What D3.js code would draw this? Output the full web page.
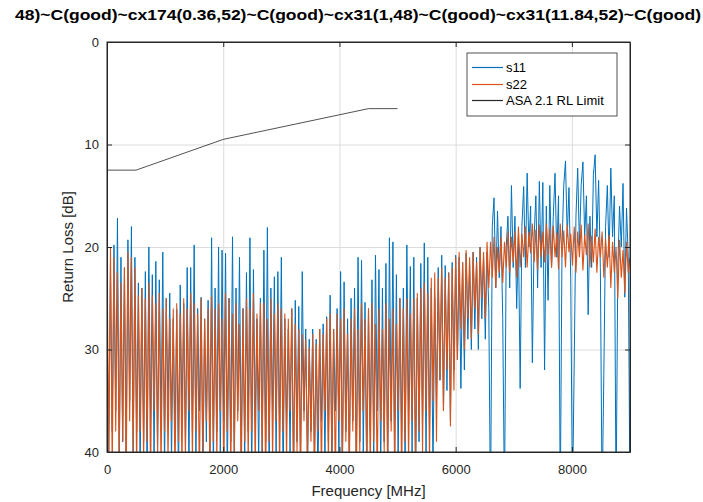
<!DOCTYPE html>
<html lang="en">
<head>
  <meta charset="UTF-8">
  <title>Return Loss</title>
  <script src="https://d3js.org/d3.v7.min.js"></script>
  <style>
    body { margin: 0; background: #fff; }
    svg { font-family: "Liberation Sans", Arial, sans-serif; }
    .tick text { fill: #262626; font-size: 13px; }
    .grid line { stroke: #dcdcdc; stroke-width: 1; }
    .grid path { display: none; }
    .axis path, .axis line { stroke: #262626; }
  </style>
</head>
<body>
<div id="chart"></div>
<script>
  // frequency step between samples (MHz), samples run 0..9000
  var freqStep = 30;

  var s11 = [
    26, 41, 22, 38, 19.8, 36, 17.2, 42, 21, 39,
    22, 40, 19.3, 35, 18, 41, 21, 38, 23.5, 42,
    24, 39, 22.4, 43, 20, 37, 22.7, 41, 21.4, 40,
    23.2, 38, 20.5, 42, 25, 36, 24.5, 41, 27, 39,
    26.1, 43, 23.7, 37, 25.5, 40, 22, 42, 22, 38,
    19.8, 41, 26, 36, 24.9, 43, 27, 39, 25.2, 40,
    19.1, 42, 24, 38, 20, 41, 20.3, 37, 20.6, 43,
    25, 39, 19, 42, 24, 36, 21, 40, 26, 41,
    22.5, 38, 19.1, 43, 22.2, 37, 27, 41, 25, 40,
    20.3, 39, 18.1, 42, 24, 36, 22.9, 41, 22.4, 38,
    21, 43, 27, 37, 28, 40, 26, 42, 25.2, 39,
    25.8, 41, 22.4, 36, 28, 42, 29, 38, 28, 40,
    29, 43, 28, 37, 27.5, 41, 26.8, 39, 24.7, 42,
    28, 36, 26, 40, 22.4, 43, 23.4, 38, 27, 41,
    25, 37, 24, 42, 21, 39, 21.3, 40, 25.4, 43,
    26, 38, 23.2, 41, 20.8, 36, 22.2, 42, 24, 39,
    21.6, 43, 19.1, 37, 19.5, 40, 22.7, 41, 25, 38,
    24, 42, 19.8, 36, 21.9, 40, 21, 43, 25, 39,
    21.6, 37, 19.6, 41, 21, 38, 24, 42, 24.9, 35,
    22, 33, 20.8, 36, 21.8, 34, 22.5, 37, 21.5, 32,
    20.8, 31, 21, 33.8, 21.5, 32, 20.6, 29, 21.8, 30,
    20.5, 28, 21, 30, 20, 27, 21, 29, 20.5, 26,
    46, 18, 15.2, 24, 16.5, 23, 18, 27, 45, 20,
    17, 24, 14, 22, 17, 26, 19, 33.8, 18, 14.1,
    22, 12.8, 20, 16, 31.3, 19, 15, 24, 13.6, 22,
    13.7, 32, 16, 25.2, 14, 22, 17, 12.8, 21, 15,
    45, 20, 14, 11.6, 19, 14.2, 23, 45, 31.3, 17,
    12.3, 20, 14, 11.7, 19, 15, 26.6, 17, 22, 13,
    11, 19, 13.5, 22, 45, 32.3, 18, 14, 21, 12.3,
    19, 15, 45, 22, 16, 20, 13.8, 24.9, 16.2, 21,
    45
  ];

  var s22 = [
    20.5, 40, 20, 42, 21, 38, 22.5, 41, 23.5, 39,
    22, 43, 20.5, 37, 21, 40, 22, 42, 24.7, 38,
    24, 41, 25, 39, 23.5, 43, 24.7, 36, 25.5, 40,
    24.5, 42, 26, 38, 25, 41, 27, 37, 26, 43,
    25.5, 39, 26.5, 42, 25, 40, 26, 36, 24.5, 41,
    25.5, 38, 26.5, 43, 25, 40, 27, 37, 26, 42,
    24.8, 39, 26, 41, 25.5, 36, 27, 43, 24.5, 38,
    25, 42, 26.5, 40, 25.5, 37, 27.5, 43, 26, 39,
    25, 41, 26, 38, 24.5, 42, 26.5, 36, 25.5, 40,
    25.5, 43, 27, 39, 25, 41, 26.5, 37, 25.5, 42,
    26, 38, 26.5, 41, 27, 36, 26, 43, 27.5, 40,
    28, 42, 28.5, 37, 29, 41, 29.8, 39, 28.5, 43,
    29.5, 38, 28, 42, 28.5, 36, 27, 41, 26.5, 40,
    28, 43, 26.5, 37, 27, 41, 26, 39, 28.5, 42,
    27, 38, 26, 43, 28, 40, 25.5, 36, 27, 41,
    26, 42, 25.5, 39, 27.5, 43, 26, 37, 28, 40,
    25.5, 41, 27, 38, 26, 42, 27.5, 36, 25, 43,
    26, 39, 25, 41, 26.5, 37, 25, 42, 24.5, 38,
    24, 40, 23.5, 36, 24.5, 41, 23, 35, 22.5, 39,
    23, 33, 22, 36, 23, 32, 22.5, 37.5, 22, 34,
    21, 31, 20.5, 28, 21.5, 30, 20.3, 27, 21, 29,
    20.5, 26, 21.5, 28.5, 20, 25, 20.5, 27, 19.5, 24,
    19.5, 23, 19, 24, 20, 22.5, 19, 23.5, 19.5, 22,
    18.5, 22.5, 19, 21.5, 18.5, 23, 18, 22, 18.7, 21,
    18, 22, 18.5, 20.6, 17.7, 21.5, 18.3, 22.2, 17.8, 21,
    18.5, 21.5, 17.7, 20.8, 18.2, 22, 17.9, 21, 18.6, 22.2,
    17.7, 21, 18.4, 22, 17.8, 20.5, 18.7, 21.8, 18, 22.5,
    18.5, 21, 17.8, 22.3, 18.8, 20.8, 17.7, 22, 18.9, 21.5,
    18.2, 22.5, 19, 21, 18.5, 23, 19.2, 22, 18.8, 24,
    19.5, 22.5, 20, 25, 19.3, 23, 20.3, 24.5, 19.5, 22.5,
    21
  ];

  // ASA 2.1 return loss limit
  var limitFreq = [0, 500, 2000, 4500, 5000];
  var limitRL = [12.5, 12.5, 9.5, 6.5, 6.5];

  var xTicks = [0, 2000, 4000, 6000, 8000];
  var yTicks = [0, 10, 20, 30, 40];
  var seriesNames = ["s11", "s22", "ASA 2.1 RL Limit"];
  var seriesColors = ["#0072BD", "#D95319", "#262626"];

  var titleText = "48)~C(good)~cx174(0.36,52)~C(good)~cx31(1,48)~C(good)~cx31(11.84,52)~C(good)";

  var margin = { top: 42, right: 73, bottom: 50, left: 107 },
    width = 703 - margin.left - margin.right,
    height = 502 - margin.top - margin.bottom;

  var svg = d3.select("#chart").append("svg")
    .attr("width", 703)
    .attr("height", 502);

  var g = svg.append("g")
    .attr("transform", "translate(" + margin.left + "," + margin.top + ")");

  var x = d3.scaleLinear().domain([0, 9000]).range([0, width]);
  var y = d3.scaleLinear().domain([0, 40]).range([0, height]);

  // grid
  g.append("g")
    .attr("class", "grid")
    .attr("transform", "translate(0," + height + ")")
    .call(d3.axisBottom(x).tickValues(xTicks).tickSize(-height).tickFormat(""));
  g.append("g")
    .attr("class", "grid")
    .call(d3.axisLeft(y).tickValues(yTicks).tickSize(-width).tickFormat(""));

  g.append("clipPath").attr("id", "clip")
    .append("rect").attr("width", width).attr("height", height);

  var line = d3.line()
    .x(function (d, i) { return x(i * freqStep); })
    .y(function (d) { return y(d); });

  var plot = g.append("g").attr("clip-path", "url(#clip)");

  plot.append("path")
    .datum(s11)
    .attr("fill", "none")
    .attr("stroke", seriesColors[0])
    .attr("stroke-width", 1)
    .attr("d", line);

  plot.append("path")
    .datum(s22)
    .attr("fill", "none")
    .attr("stroke", seriesColors[1])
    .attr("stroke-width", 1.1)
    .attr("d", line);

  plot.append("path")
    .datum(limitRL)
    .attr("fill", "none")
    .attr("stroke", seriesColors[2])
    .attr("stroke-width", 0.8)
    .attr("d", d3.line()
      .x(function (d, i) { return x(limitFreq[i]); })
      .y(function (d) { return y(d); }));

  // axes, ticks pointing inward
  g.append("g")
    .attr("class", "axis")
    .attr("transform", "translate(0," + height + ")")
    .call(d3.axisBottom(x).tickValues(xTicks).tickFormat(d3.format("d"))
      .tickSize(-5).tickSizeOuter(0).tickPadding(13));
  g.append("g")
    .attr("class", "axis")
    .call(d3.axisLeft(y).tickValues(yTicks).tickSize(-5).tickSizeOuter(0).tickPadding(8));
  g.append("g")
    .attr("class", "axis")
    .call(d3.axisTop(x).tickValues(xTicks).tickSize(-5).tickSizeOuter(0).tickFormat(""));
  g.append("g")
    .attr("class", "axis")
    .attr("transform", "translate(" + width + ",0)")
    .call(d3.axisRight(y).tickValues(yTicks).tickSize(-5).tickSizeOuter(0).tickFormat(""));

  g.append("rect")
    .attr("width", width).attr("height", height)
    .attr("fill", "none").attr("stroke", "#262626").attr("stroke-width", 1);

  // labels
  g.append("text")
    .attr("x", width / 2)
    .attr("y", height + 44)
    .attr("text-anchor", "middle")
    .attr("font-size", 15)
    .attr("fill", "#262626")
    .text("Frequency [MHz]");

  g.append("text")
    .attr("transform", "translate(-34," + (height / 2) + ") rotate(-90)")
    .attr("text-anchor", "middle")
    .attr("font-size", 15)
    .attr("fill", "#262626")
    .text("Return Loss [dB]");

  svg.append("text")
    .attr("x", 15)
    .attr("y", 20)
    .attr("font-weight", "bold")
    .attr("font-size", 14)
    .attr("fill", "#000")
    .attr("textLength", 686)
    .attr("lengthAdjust", "spacingAndGlyphs")
    .text(titleText);

  // legend
  var legend = g.append("g").attr("transform", "translate(360,11)");
  legend.append("rect")
    .attr("width", 150).attr("height", 63)
    .attr("fill", "#fff").attr("stroke", "#262626").attr("stroke-width", 0.8);
  seriesNames.forEach(function (name, i) {
    var row = legend.append("g").attr("transform", "translate(0," + Math.round(14 + i * 16.5) + ")");
    row.append("line")
      .attr("x1", 5).attr("x2", 36)
      .attr("y1", 0.5).attr("y2", 0.5)
      .attr("stroke", seriesColors[i]).attr("stroke-width", 1.2);
    row.append("text")
      .attr("x", 39).attr("dy", "0.35em")
      .attr("font-size", 13)
      .attr("fill", "#000")
      .text(name);
  });
</script>
</body>
</html>
